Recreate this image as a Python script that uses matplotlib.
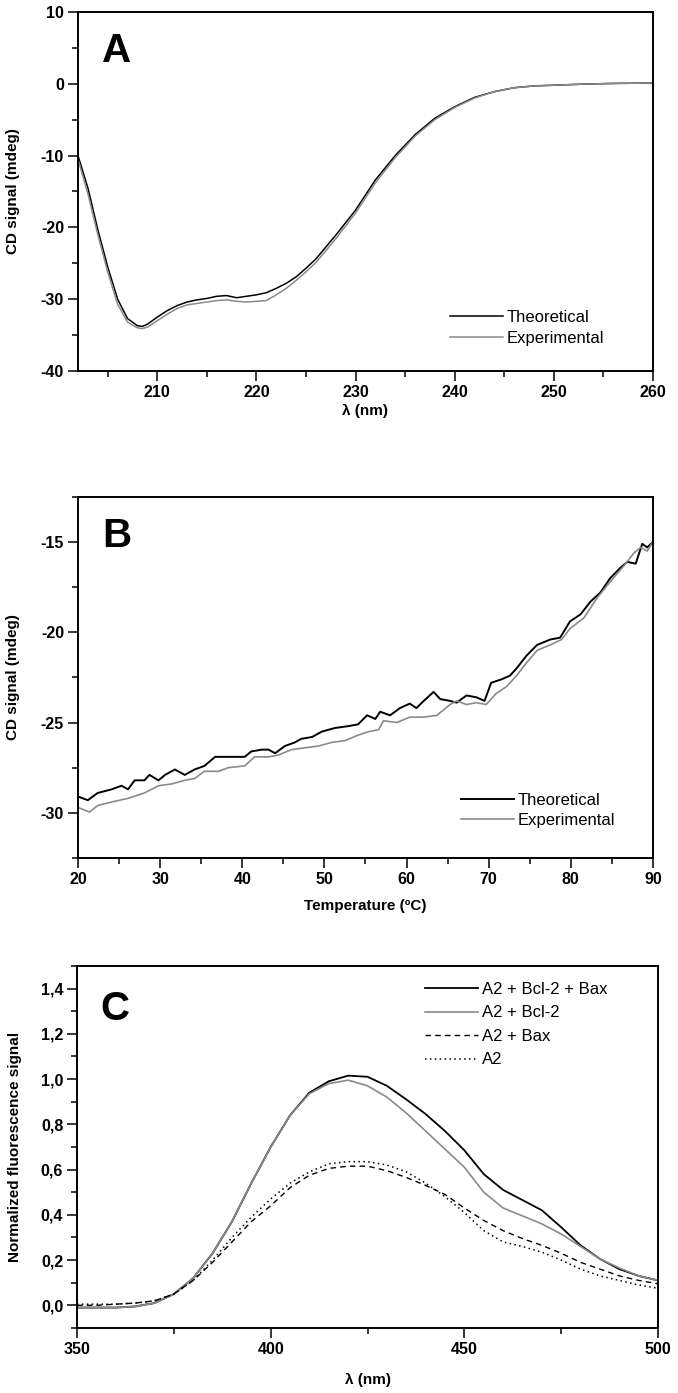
import numpy as np
import matplotlib
matplotlib.use("Agg")
import matplotlib.pyplot as plt
from matplotlib.ticker import MultipleLocator, FuncFormatter

plt.rcParams['font.family'] = ['Liberation Sans', 'DejaVu Sans']
plt.rcParams['axes.unicode_minus'] = False

# ---------------- data ----------------
# panel A : CD spectra
wl_a = [202, 203, 204, 205, 206, 207, 208, 208.5, 209, 210, 211, 212, 213, 214, 215,
        216, 217, 218, 219, 220, 221, 222, 223, 224, 225, 226, 228, 230, 232, 234,
        236, 238, 240, 242, 244, 246, 248, 250, 253, 256, 260]
theo_a = [-10, -14.5, -20.3, -25.5, -30.0, -32.7, -33.7, -33.8, -33.5, -32.5, -31.6,
          -30.9, -30.4, -30.1, -29.9, -29.6, -29.5, -29.8, -29.6, -29.4, -29.1, -28.5,
          -27.8, -26.9, -25.7, -24.4, -21.1, -17.6, -13.4, -10.0, -7.1, -4.8, -3.2,
          -1.9, -1.1, -0.55, -0.3, -0.2, -0.05, 0.05, 0.1]
exp_a = [-10.5, -15.3, -21.0, -26.2, -30.7, -33.2, -34.0, -34.1, -33.9, -33.0, -32.1,
         -31.3, -30.8, -30.6, -30.4, -30.2, -30.1, -30.3, -30.4, -30.3, -30.2, -29.4,
         -28.5, -27.4, -26.2, -24.9, -21.6, -18.0, -13.8, -10.3, -7.3, -5.0, -3.3,
         -2.0, -1.1, -0.55, -0.3, -0.2, -0.05, 0.05, 0.1]

# panel B : thermal scan
t_theo = [20, 21.2, 22.4, 24.1, 25.3, 26.1, 26.9, 28.1, 28.7, 29.8, 30.6, 31.8, 33,
          34.2, 35.4, 36.7, 37.9, 39.5, 40.3, 41.1, 42.4, 43.2, 44, 45.2, 46.4, 47.2,
          48.5, 49.7, 51.3, 52.9, 54.1, 55.2, 56.2, 56.8, 58, 59.2, 60.4, 61.2, 62.1,
          63.3, 64.1, 65.3, 66.1, 67.3, 68.5, 69.5, 70.3, 71.6, 72.6, 73.4, 74.6, 75.9,
          77.5, 78.7, 79.9, 81.2, 82.4, 83.6, 84.8, 86.1, 86.9, 87.9, 88.7, 89.3, 90]
theo_b = [-29.1, -29.3, -28.9, -28.7, -28.5, -28.7, -28.2, -28.2, -27.9, -28.2, -27.9,
          -27.6, -27.9, -27.6, -27.4, -26.9, -26.9, -26.9, -26.9, -26.6, -26.5, -26.5,
          -26.7, -26.3, -26.1, -25.9, -25.8, -25.5, -25.3, -25.2, -25.1, -24.6, -24.8,
          -24.4, -24.6, -24.2, -23.95, -24.2, -23.8, -23.3, -23.7, -23.8, -23.9, -23.5,
          -23.6, -23.8, -22.8, -22.6, -22.4, -22.0, -21.3, -20.7, -20.4, -20.3, -19.4,
          -19.0, -18.3, -17.8, -17.0, -16.4, -16.1, -16.2, -15.1, -15.3, -15.0]
t_exp = [20, 21.4, 22.4, 24.1, 26.1, 28.1, 29.8, 31.4, 33, 34.2, 35.4, 37.1, 38.3, 40.3,
         41.5, 43.2, 44.4, 46, 47.6, 49.3, 50.9, 52.5, 54.1, 55.4, 56.6, 57.2, 58.8,
         60.4, 62.1, 63.7, 65.3, 66.1, 67.3, 68.5, 69.7, 70.9, 72.2, 73.4, 74.6, 75.9,
         77.5, 78.9, 79.9, 81.6, 83.2, 84.8, 86.5, 87.7, 88.5, 89.3, 90]
exp_b = [-29.7, -29.96, -29.6, -29.4, -29.2, -28.9, -28.5, -28.4, -28.2, -28.1, -27.7,
         -27.7, -27.5, -27.4, -26.9, -26.9, -26.8, -26.5, -26.4, -26.3, -26.1, -26.0,
         -25.7, -25.5, -25.4, -24.9, -25.0, -24.7, -24.7, -24.6, -24.0, -23.8, -24.0,
         -23.9, -24.0, -23.4, -23.0, -22.4, -21.7, -21.0, -20.7, -20.4, -19.8, -19.2,
         -18.1, -17.2, -16.3, -15.6, -15.3, -15.5, -15.0]

# panel C : fluorescence
wl_c = [350, 355, 360, 365, 370, 375, 380, 385, 390, 395, 400, 405, 410, 415, 420, 425,
        430, 435, 440, 445, 450, 455, 460, 465, 470, 475, 480, 485, 490, 495, 500]
a2_bcl2_bax = [-0.01, -0.01, -0.01, -0.005, 0.01, 0.05, 0.12, 0.23, 0.37, 0.54, 0.70,
               0.84, 0.94, 0.99, 1.015, 1.01, 0.97, 0.91, 0.845, 0.77, 0.685, 0.58,
               0.51, 0.465, 0.42, 0.345, 0.265, 0.205, 0.16, 0.13, 0.11]
a2_bcl2 = [-0.01, -0.01, -0.01, -0.005, 0.01, 0.05, 0.12, 0.23, 0.37, 0.54, 0.70, 0.84,
           0.935, 0.98, 0.995, 0.97, 0.92, 0.85, 0.77, 0.69, 0.61, 0.50, 0.43, 0.395,
           0.36, 0.315, 0.26, 0.205, 0.165, 0.13, 0.11]
a2_bax = [0.0, 0.0, 0.005, 0.01, 0.02, 0.05, 0.11, 0.19, 0.28, 0.37, 0.44, 0.52, 0.575,
          0.605, 0.615, 0.615, 0.595, 0.565, 0.53, 0.49, 0.43, 0.375, 0.33, 0.295, 0.265,
          0.23, 0.19, 0.16, 0.13, 0.11, 0.095]
a2 = [0.005, 0.005, 0.005, 0.01, 0.02, 0.05, 0.11, 0.20, 0.30, 0.39, 0.47, 0.54, 0.59,
      0.625, 0.635, 0.635, 0.62, 0.59, 0.54, 0.48, 0.41, 0.33, 0.28, 0.26, 0.235, 0.20,
      0.16, 0.13, 0.11, 0.09, 0.075]

#-----------------------------------------------

fig = plt.figure(figsize=(6.78, 13.93), dpi=100)
axA = fig.add_axes([0.115, 0.7337, 0.848, 0.2577])
axB = fig.add_axes([0.115, 0.3841, 0.848, 0.2592])
axC = fig.add_axes([0.1136, 0.0467, 0.857, 0.2599])

def style(ax):
    for s in ax.spines.values():
        s.set_linewidth(1.4)
    ax.tick_params(which='both', direction='out', top=False, right=False, width=1.1)
    ax.tick_params(which='major', length=7, pad=3, labelsize=11.5)
    ax.tick_params(which='minor', length=4)
    for lab in ax.get_xticklabels() + ax.get_yticklabels():
        lab.set_fontweight('bold')

legfont = {'size': 12}
labfont = 11

# figura A
axA.plot(wl_a, theo_a, '-', color='black', lw=1.1, label='Theoretical')
axA.plot(wl_a, exp_a, '-', color='#8a8a8a', lw=1.1, label='Experimental')
axA.set_xlim(202, 260)
axA.set_ylim(-40, 10)
axA.xaxis.set_major_locator(MultipleLocator(10))
axA.xaxis.set_minor_locator(MultipleLocator(5))
axA.yaxis.set_major_locator(MultipleLocator(10))
axA.yaxis.set_minor_locator(MultipleLocator(5))
axA.set_xlabel(u"\u03bb (nm)", fontweight='bold', fontsize=labfont)
axA.set_ylabel("CD signal (mdeg)", fontweight='bold', fontsize=labfont)
axA.xaxis.set_label_coords(0.5, -0.092)
axA.yaxis.set_label_coords(-0.10, 0.5)
axA.text(0.042, 0.944, "A", transform=axA.transAxes, fontsize=29, fontweight='bold', va='top')
axA.legend(loc='upper left', bbox_to_anchor=(0.647, 0.170), frameon=False, prop=legfont,
           handlelength=3.2, handletextpad=0.2, borderpad=0, borderaxespad=0, labelspacing=0.34)
style(axA)

# figura B
axB.plot(t_theo, theo_b, '-', color='black', lw=1.4, label='Theoretical')
axB.plot(t_exp, exp_b, '-', color='#8a8a8a', lw=1.2, label='Experimental')
axB.set_xlim(20, 90)
axB.set_ylim(-32.5, -12.5)
axB.xaxis.set_major_locator(MultipleLocator(10))
axB.xaxis.set_minor_locator(MultipleLocator(5))
axB.yaxis.set_major_locator(MultipleLocator(5))
axB.yaxis.set_minor_locator(MultipleLocator(2.5))
axB.set_xlabel(u"Temperature (\u00baC)", fontweight='bold', fontsize=labfont)
axB.set_ylabel("CD signal (mdeg)", fontweight='bold', fontsize=labfont)
axB.xaxis.set_label_coords(0.5, -0.114)
axB.yaxis.set_label_coords(-0.10, 0.5)
axB.text(0.042, 0.945, "B", transform=axB.transAxes, fontsize=29, fontweight='bold', va='top')
axB.legend(loc='upper left', bbox_to_anchor=(0.666, 0.181), frameon=False, prop=legfont,
           handlelength=3.2, handletextpad=0.2, borderpad=0, borderaxespad=0, labelspacing=0.34)
style(axB)

# figura C
axC.plot(wl_c, a2_bcl2_bax, '-', color='black', lw=1.3, label='A2 + Bcl-2 + Bax')
axC.plot(wl_c, a2_bcl2, '-', color='#8a8a8a', lw=1.2, label='A2 + Bcl-2')
axC.plot(wl_c, a2_bax, '--', color='black', lw=1.0, dashes=(4, 3), label='A2 + Bax')
axC.plot(wl_c, a2, ':', color='black', lw=1.1, dashes=(1, 2.2), label='A2')
axC.set_xlim(350, 500)
axC.set_ylim(-0.1, 1.5)
axC.xaxis.set_major_locator(MultipleLocator(50))
axC.xaxis.set_minor_locator(MultipleLocator(25))
axC.yaxis.set_major_locator(MultipleLocator(0.2))
axC.yaxis.set_minor_locator(MultipleLocator(0.1))
axC.yaxis.set_major_formatter(FuncFormatter(lambda v, p: ("%.1f" % v).replace('.', ',')))
axC.set_xlabel(u"\u03bb (nm)", fontweight='bold', fontsize=labfont)
axC.set_ylabel("Normalized fluorescence signal", fontweight='bold', fontsize=labfont)
axC.xaxis.set_label_coords(0.5, -0.124)
axC.yaxis.set_label_coords(-0.095, 0.5)
axC.text(0.04, 0.934, "C", transform=axC.transAxes, fontsize=29, fontweight='bold', va='top')
axC.legend(loc='upper left', bbox_to_anchor=(0.599, 0.956), frameon=False, prop=legfont,
           handlelength=3.2, handletextpad=0.2, borderpad=0, borderaxespad=0, labelspacing=0.51)
style(axC)

fig.savefig("out.png", dpi=100)
